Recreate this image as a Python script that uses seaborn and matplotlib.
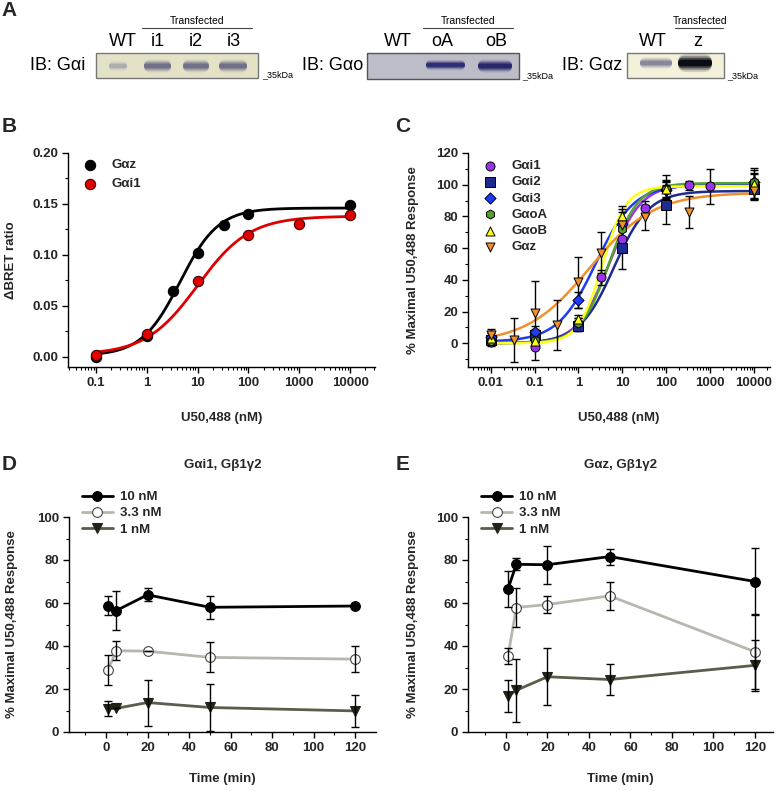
import numpy as np
import pandas as pd
import matplotlib
matplotlib.use('Agg')
import matplotlib.pyplot as plt
import seaborn as sns
from matplotlib.patches import Rectangle, FancyBboxPatch
from matplotlib.ticker import FixedLocator, LogLocator, MultipleLocator, FuncFormatter, NullFormatter

sns.set_theme(style='ticks')
plt.rcParams['font.family'] = ['Liberation Sans', 'DejaVu Sans']
plt.rcParams['font.weight'] = 'bold'
plt.rcParams['axes.labelweight'] = 'bold'

# ---- panel B: BRET ratio vs U50,488
b_conc_z = [0.1, 1, 3.3, 10, 33, 100, 10000]
b_ratio_z = [0.000, 0.020, 0.065, 0.102, 0.129, 0.140, 0.149]
b_conc_i1 = [0.1, 1, 10, 100, 1000, 10000]
b_ratio_i1 = [0.002, 0.022, 0.074, 0.120, 0.130, 0.139]
# fitted curves: bottom, top, EC50, hill slope
b_fit_z = (0.001, 0.146, 4.5, 1.15)
b_fit_i1 = (0.002, 0.138, 10.0, 0.85)

# ---- panel C: % maximal response per G protein
c_labels = ['G\u03b1i1', 'G\u03b1i2', 'G\u03b1i3', 'G\u03b1oA', 'G\u03b1oB', 'G\u03b1z']
c_conc = [
    [0.01, 0.1, 1, 3.3, 10, 33, 100, 330, 1000, 10000],
    [0.01, 0.1, 1, 10, 100, 10000],
    [0.01, 0.1, 1, 10, 100, 10000],
    [0.01, 0.1, 1, 10, 100, 10000],
    [0.01, 0.1, 1, 10, 100, 10000],
    [0.01, 0.033, 0.1, 0.33, 1, 3.3, 10, 33, 330, 10000],
]
c_resp = [
    [1, -2.5, 12, 41.5, 65.5, 85.5, 97, 99.5, 99, 100],
    [2, 5, 11, 60, 87.5, 97.5],
    [4, 7, 27, 75, 96.5, 101.5],
    [1.5, 2, 13, 72, 97.5, 102],
    [3.5, 1.5, 15, 80.5, 97, 100.5],
    [5, 2, 19, 11.5, 38.5, 57, 74.5, 79.5, 83, 96],
]
c_err = [
    [3, 8, 4, 5, 8, 4, 6, 3, 11, 9],
    [3, 4, 3, 13, 12, 6],
    [4, 4, 5, 8, 5, 6],
    [2, 3, 3, 6, 5, 5],
    [3, 3, 3, 6, 9, 10],
    [4, 14, 20, 16, 16, 13, 10, 8, 10, 5],
]
c_fit = [
    (0, 100, 5.0, 1.2),
    (0, 96, 6.5, 1.1),
    (1, 100, 2.5, 1.0),
    (0, 101, 5.0, 1.3),
    (0, 99, 3.5, 1.6),
    (0, 95, 1.8, 0.6),
]
c_colors = ['#9933ee', '#1f2a8f', '#1f3cf5', '#5aa02c', '#ffff1a', '#f0902a']
c_markers = ['o', 's', 'D', 'h', '^', 'v']

# ---- panels D/E: time course
time_min = [1, 5, 20, 50, 120]
dose_labels = ['10 nM', '3.3 nM', '1 nM']
d_resp = [[58.8, 56.5, 63.8, 58.0, 58.6],
          [29.0, 37.8, 37.6, 34.7, 33.9],
          [10.9, 11.0, 13.7, 11.4, 9.8]]
d_err = [[4.6, 9.0, 3.0, 5.3, 0.0],
         [7.0, 4.5, 0.0, 7.0, 6.0],
         [3.6, 0.0, 10.7, 11.0, 7.4]]
e_resp = [[66.6, 78.0, 77.8, 81.6, 70.0],
          [35.5, 57.9, 59.3, 63.3, 37.3],
          [16.8, 19.4, 25.7, 24.4, 31.0]]
e_err = [[8.5, 2.7, 8.8, 3.7, 15.5],
         [3.8, 9.0, 3.8, 6.7, 17.5],
         [7.5, 14.7, 13.2, 7.3, 12.0]]
dose_line = ['black', '#b5b8ad', '#5c5c4c']
dose_face = ['black', 'white', '#222218']
dose_edge = ['black', '#444444', '#222218']
dose_marker = ['o', 'o', 'v']


def hill(x, p):
    bottom, top, ec50, n = p
    return bottom + (top - bottom) / (1 + (ec50 / x) ** n)


W, H = 777, 791
fig = plt.figure(figsize=(W / 100, H / 100), dpi=100)
fig.patch.set_facecolor('white')

ov = fig.add_axes([0, 0, 1, 1])
ov.set_xlim(0, W)
ov.set_ylim(H, 0)
ov.axis('off')


def px_axes(l, t, r, b):
    return fig.add_axes([l / W, 1 - b / H, (r - l) / W, (b - t) / H])


def style(ax):
    sns.despine(ax=ax)
    for s in ['left', 'bottom']:
        ax.spines[s].set_linewidth(1.0)
        ax.spines[s].set_color('black')
    ax.set_facecolor('none')
    ax.tick_params(which='major', length=4, width=1, direction='out',
                   labelsize=9.5, color='black', pad=3)
    ax.tick_params(which='minor', length=2.5, width=0.8, direction='out', color='black')


def log_axis(ax, majors, lo, hi):
    ax.set_xscale('log')
    ax.set_xlim(lo, hi)
    ax.xaxis.set_major_locator(FixedLocator(majors))
    ax.xaxis.set_major_formatter(FuncFormatter(lambda v, p: '{:g}'.format(v)))
    ax.xaxis.set_minor_locator(LogLocator(base=10, subs=np.arange(2, 10), numticks=50))
    ax.xaxis.set_minor_formatter(NullFormatter())


# ---------------- panel A: blots drawn as boxes ----------------
def band(x0, x1, yc, h, col, alpha):
    for k, a in enumerate([alpha * 0.15, alpha * 0.3, alpha * 0.55, alpha]):
        hh = h * (2.6 - 0.55 * k)
        ov.add_patch(FancyBboxPatch((x0 + 1, yc - hh / 2), x1 - x0 - 2, hh,
                                    boxstyle='round,pad=0,rounding_size=%.1f' % (hh / 2.2),
                                    facecolor=col, edgecolor='none', alpha=a))


txt = dict(fontweight='normal', color='black')
ov.add_patch(Rectangle((96, 53), 162, 25, facecolor='#e4e2c6', edgecolor='#777777', lw=1))
band(108, 128, 66, 4, '#9a9aa8', 0.5)
for x0, x1 in [(143, 172), (182, 210), (218, 248)]:
    band(x0, x1, 66, 5, '#6a6b86', 0.85)
ov.add_patch(Rectangle((367, 53), 152, 26, facecolor='#bcbdc6', edgecolor='#555555', lw=1))
band(425, 466, 65, 4, '#2a2a72', 0.9)
band(477, 513, 66, 5, '#232366', 0.9)
ov.add_patch(Rectangle((627, 53), 97, 25, facecolor='#f3f1da', edgecolor='#777777', lw=1))
band(639, 673, 63, 4.5, '#7e7e98', 0.8)
band(677, 713, 63, 7, '#0c0c18', 1.0)

for x, s in [(85, 'IB: G\u03b1i'), (363, 'IB: G\u03b1o'), (622, 'IB: G\u03b1z')]:
    ov.text(x, 66, s, ha='right', va='center', fontsize=13, **txt)
for x, y in [(262, 75), (522, 76), (727, 76)]:
    ov.text(x, y, '_35kDa', ha='left', va='center', fontsize=6.5, **txt)
for x, s in [(123, 'WT'), (158, 'i1'), (196, 'i2'), (234, 'i3'),
             (398, 'WT'), (442, 'oA'), (496, 'oB'), (653, 'WT'), (698, 'z')]:
    ov.text(x, 42, s, ha='center', va='center', fontsize=13, **txt)
for xc, x0, x1 in [(197, 142, 252), (468, 423, 513), (700, 675, 723)]:
    ov.text(xc, 21, 'Transfected', ha='center', va='center', fontsize=7.5, **txt)
    ov.plot([x0, x1], [28, 28], color='#444444', lw=0.8)

for x, y, s in [(9, 10, 'A'), (9, 127, 'B'), (403, 127, 'C'), (9, 465, 'D'), (403, 465, 'E')]:
    ov.text(x, y, s, ha='center', va='center', fontsize=15, fontweight='bold')

# ---------------- panel B ----------------
axb = px_axes(68, 153, 375, 367)
style(axb)
log_axis(axb, [0.1, 1, 10, 100, 1000, 10000], 10 ** -1.55, 10 ** 4.49)
xs = np.logspace(-1, 4, 300)
sns.lineplot(x=xs, y=hill(xs, b_fit_z), ax=axb, color='black', lw=2, zorder=2)
sns.lineplot(x=xs, y=hill(xs, b_fit_i1), ax=axb, color='#dd0000', lw=2, zorder=2)
sns.scatterplot(x=b_conc_z, y=b_ratio_z, ax=axb, color='black', s=55, edgecolor='black',
                linewidth=0.8, zorder=4, label='G\u03b1z')
sns.scatterplot(x=b_conc_i1, y=b_ratio_i1, ax=axb, color='#e00000', s=55, edgecolor='#400000',
                linewidth=0.8, zorder=5, label='G\u03b1i1')
axb.set_ylim(-0.01, 0.20)
axb.yaxis.set_major_locator(FixedLocator([0, 0.05, 0.10, 0.15, 0.20]))
axb.yaxis.set_major_formatter(FuncFormatter(lambda v, p: '%.2f' % v))
axb.yaxis.set_minor_locator(FixedLocator([0.025, 0.075, 0.125, 0.175]))
axb.set_xlabel('U50,488 (nM)', fontsize=9.5, labelpad=17)
axb.set_ylabel('\u0394BRET ratio', fontsize=9.5, labelpad=11)
axb.legend(loc='upper left', bbox_to_anchor=(0.05, 0.972), frameon=False, borderpad=0,
           handlelength=1, handletextpad=1.16, labelspacing=0.5, fontsize=9.5,
           borderaxespad=0)

# ---------------- panel C ----------------
axc = px_axes(468, 153, 770, 367)
style(axc)
log_axis(axc, [0.01, 0.1, 1, 10, 100, 1000, 10000], 10 ** -2.52, 10 ** 4.37)
xs = np.logspace(-2, 4, 300)
for p, col in zip(c_fit, c_colors):
    sns.lineplot(x=xs, y=hill(xs, p), ax=axc, color=col, lw=1.8, zorder=2)
for i in range(len(c_labels)):
    axc.errorbar(c_conc[i], c_resp[i], yerr=c_err[i], fmt='none', ecolor='black',
                 elinewidth=1, capsize=3, capthick=1, zorder=3)
for i in range(len(c_labels)):
    sns.scatterplot(x=c_conc[i], y=c_resp[i], ax=axc, color=c_colors[i], marker=c_markers[i],
                    s=42 if c_markers[i] != 'D' else 32, edgecolor='black', linewidth=0.7,
                    zorder=4 + i, label=c_labels[i])
axc.set_ylim(-15, 120)
axc.yaxis.set_major_locator(FixedLocator([0, 20, 40, 60, 80, 100, 120]))
axc.yaxis.set_minor_locator(FixedLocator([-10, 10, 30, 50, 70, 90, 110]))
axc.set_xlabel('U50,488 (nM)', fontsize=9.5, labelpad=17)
axc.set_ylabel('% Maximal U50,488 Response', fontsize=9.5, labelpad=12)
axc.legend(loc='upper left', bbox_to_anchor=(0.051, 0.967), frameon=False, borderpad=0,
           handlelength=1, handletextpad=1.16, labelspacing=0.3, fontsize=9.5,
           borderaxespad=0)


# ---------------- panels D and E ----------------
def time_panel(l, r, resp, err, title, leg_x, ypad):
    ax = px_axes(l, 517, r, 732)
    style(ax)
    for i in range(3):
        sns.lineplot(x=time_min, y=resp[i], ax=ax, color=dose_line[i], lw=2,
                     marker=dose_marker[i], markersize=7, markerfacecolor=dose_face[i],
                     markeredgecolor=dose_edge[i], markeredgewidth=0.8,
                     label=dose_labels[i], zorder=4 - i, errorbar=None)
        ax.errorbar(time_min, resp[i], yerr=err[i], fmt='none', ecolor='black',
                    elinewidth=1, capsize=3, capthick=1, zorder=5)
    ax.set_ylim(0, 100)
    ax.yaxis.set_major_locator(MultipleLocator(20))
    ax.yaxis.set_minor_locator(MultipleLocator(10))
    ax.xaxis.set_major_locator(FixedLocator([0, 20, 40, 60, 80, 100, 120]))
    ax.xaxis.set_minor_locator(FixedLocator([-10, 10, 30, 50, 70, 90, 110]))
    ax.set_xlabel('Time (min)', fontsize=9.5, labelpad=14)
    ax.set_ylabel('% Maximal U50,488 Response', fontsize=9.5, labelpad=ypad)
    ax.legend(loc='upper left', bbox_to_anchor=(leg_x, 1.121), frameon=False, borderpad=0,
              handlelength=2.35, handletextpad=0.55, labelspacing=0.3, fontsize=9.5,
              borderaxespad=0, numpoints=1)
    ax.text(0.5, 1.24, title, transform=ax.transAxes, ha='center', va='center',
            fontsize=9.5, fontweight='bold')
    return ax


axd = time_panel(69, 376, d_resp, d_err, 'G\u03b1i1, G\u03b21\u03b32', 0.042, 14)
axd.set_xlim(-17.8, 130)
axe = time_panel(468, 773, e_resp, e_err, 'G\u03b1z, G\u03b21\u03b32', 0.043, 12)
axe.set_xlim(-18.3, 128.7)

fig.savefig('out.png', dpi=100)
